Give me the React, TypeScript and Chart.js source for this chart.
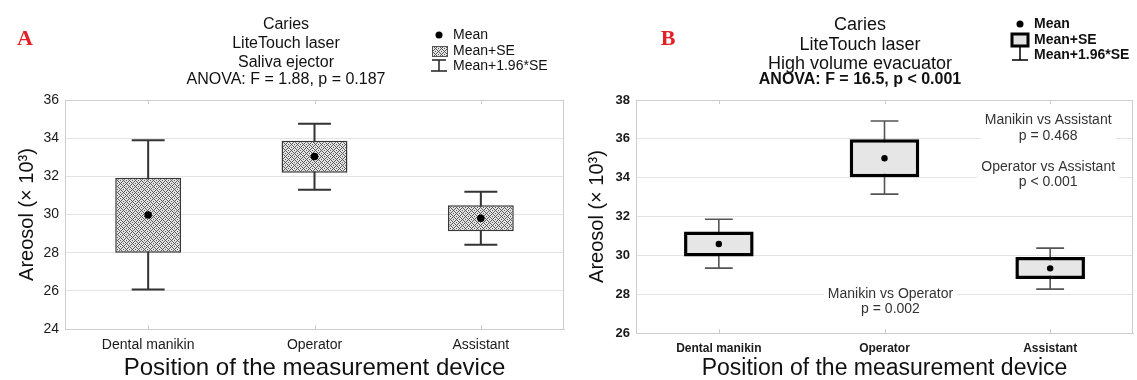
import React, { useEffect, useRef } from 'react';
import { Chart, registerables } from 'chart.js';

Chart.register(...registerables);

// ---------- data ----------
const categories = ['Dental manikin', 'Operator', 'Assistant'];

// Panel A: Saliva ejector
const meanA = [29.97, 33.04, 29.8];
const seLowA = [28.0, 32.19, 29.12];
const seHighA = [31.93, 33.87, 30.48];
const ciLowA = [26.07, 31.3, 28.42];
const ciHighA = [33.89, 34.75, 31.19];
const yTicksA = [24, 26, 28, 30, 32, 34, 36];

// Panel B: High volume evacuator
const meanB = [30.58, 35.0, 29.33];
const seLowB = [29.94, 34.02, 28.78];
const seHighB = [31.23, 35.98, 29.91];
const ciLowB = [29.34, 33.15, 28.26];
const ciHighB = [31.86, 36.92, 30.37];
const yTicksB = [26, 28, 30, 32, 34, 36, 38];

const titleA = ['Caries', 'LiteTouch laser', 'Saliva ejector'];
const anovaA = 'ANOVA: F = 1.88, p = 0.187';
const titleB = ['Caries', 'LiteTouch laser', 'High volume evacuator'];
const anovaB = 'ANOVA: F = 16.5, p < 0.001';
const legendLabels = ['Mean', 'Mean+SE', 'Mean+1.96*SE'];
const yTitle = 'Areosol (× 10³)';
const xTitle = 'Position of the measurement device';
const comparisonTextsB = [
  ['Manikin vs Assistant', 'p = 0.468'],
  ['Operator vs Assistant', 'p < 0.001'],
  ['Manikin vs Operator', 'p = 0.002'],
];

// ---------- styles ----------
const FONT = 'Arial, "Liberation Sans", Helvetica, sans-serif';
const SERIF = '"Liberation Serif", "Times New Roman", Times, serif';

function makePattern(): CanvasPattern | string {
  const n = 6;
  const c = document.createElement('canvas');
  c.width = n;
  c.height = n;
  const g = c.getContext('2d');
  if (!g) return '#b8b8b8';
  g.fillStyle = '#e4e4e4';
  g.fillRect(0, 0, n, n);
  g.fillStyle = '#585858';
  for (let x = 0; x < n; x++) {
    for (let y = 0; y < n; y++) {
      const q = (Math.floor(x / 3) + Math.floor(y / 3)) % 2;
      const on = q === 0 ? (x + y) % 3 === 0 : (x - y + 9) % 3 === 0;
      if (on) g.fillRect(x, y, 1, 1);
    }
  }
  return g.createPattern(c, 'repeat') ?? '#b8b8b8';
}

interface PanelSpec {
  variant: 'A' | 'B';
  mean: number[];
  seLow: number[];
  seHigh: number[];
  ciLow: number[];
  ciHigh: number[];
  yTicks: number[];
  title: string[];
  anova: string;
  letter: string;
}

function text(ctx: CanvasRenderingContext2D, s: string, x: number, y: number, font: string, color: string, align: CanvasTextAlign = 'center') {
  ctx.font = font;
  ctx.fillStyle = color;
  ctx.textAlign = align;
  ctx.textBaseline = 'middle';
  ctx.fillText(s, x, y);
}

function buildChart(canvas: HTMLCanvasElement, p: PanelSpec) {
  const isA = p.variant === 'A';
  const pattern = isA ? makePattern() : '#e6e6e6';
  const st = isA
    ? {
        yAxisWidth: 65, xAxisHeight: 51, padRight: 3,
        border: '#383838', borderWidth: 1.5, barPct: 0.396,
        capFrac: 0.5, whiskerColor: '#333', whiskerWidth: 2, dotR: 3.8,
        yTickFont: { family: FONT, size: 14 }, xTickFont: { family: FONT, size: 14 },
        yTitlePad: 17, titleFont: `16px ${FONT}`, anovaFont: `16px ${FONT}`,
        titleX: 286, titleYs: [25, 44, 63, 80],
        legendX: 439, legendYs: [35, 51, 66], legendFont: `14px ${FONT}`,
        letterX: 25, xTitleSize: 24,
      }
    : {
        yAxisWidth: 68, xAxisHeight: 47, padRight: 2,
        border: '#000', borderWidth: 3.5, barPct: 0.42,
        capFrac: 0.4, whiskerColor: '#555', whiskerWidth: 1.6, dotR: 3.2,
        yTickFont: { family: FONT, size: 13, weight: 'bold' as const }, xTickFont: { family: FONT, size: 12, weight: 'bold' as const },
        yTitlePad: 19, titleFont: `18px ${FONT}`, anovaFont: `bold 16px ${FONT}`,
        titleX: 292, titleYs: [25, 45, 64, 80],
        legendX: 452, legendYs: [24, 40, 55], legendFont: `bold 14px ${FONT}`,
        letterX: 100, xTitleSize: 23,
      };

  const errorBars = {
    id: 'errorBars',
    beforeDatasetsDraw(chart: any) {
      const { ctx, scales } = chart;
      const x = scales.x;
      const y = scales.y;
      const meta = chart.getDatasetMeta(1);
      ctx.save();
      ctx.strokeStyle = st.whiskerColor;
      ctx.lineWidth = st.whiskerWidth;
      p.ciLow.forEach((v, i) => {
        const bar = meta.data[i] as any;
        const cx = x.getPixelForValue(i);
        const half = (bar.width * st.capFrac) / 2;
        const yl = y.getPixelForValue(v);
        const yh = y.getPixelForValue(p.ciHigh[i]);
        ctx.beginPath();
        ctx.moveTo(cx, yl);
        ctx.lineTo(cx, yh);
        ctx.moveTo(cx - half, yl);
        ctx.lineTo(cx + half, yl);
        ctx.moveTo(cx - half, yh);
        ctx.lineTo(cx + half, yh);
        ctx.stroke();
      });
      // frame: top and right border, small category marks
      const a = chart.chartArea;
      ctx.strokeStyle = '#cdcdcd';
      ctx.lineWidth = 1;
      ctx.beginPath();
      ctx.moveTo(a.left, a.top + 0.5);
      ctx.lineTo(a.right, a.top + 0.5);
      ctx.moveTo(a.right - 0.5, a.top);
      ctx.lineTo(a.right - 0.5, a.bottom);
      categories.forEach((_, i) => {
        const cx = Math.round(x.getPixelForValue(i)) + 0.5;
        ctx.moveTo(cx, a.top);
        ctx.lineTo(cx, a.top + 4);
        ctx.moveTo(cx, a.bottom);
        ctx.lineTo(cx, a.bottom - 4);
      });
      ctx.stroke();
      ctx.restore();
    },
  };

  const decor = {
    id: 'decor',
    afterDraw(chart: any) {
      const { ctx, scales } = chart;
      const x = scales.x;
      const y = scales.y;
      ctx.save();
      // panel letter
      text(ctx, p.letter, st.letterX, 39, `bold 22px ${SERIF}`, '#e41f26');
      // titles
      p.title.forEach((t, i) => text(ctx, t, st.titleX, st.titleYs[i], st.titleFont, '#111'));
      text(ctx, p.anova, st.titleX, st.titleYs[3], st.anovaFont, '#111');
      // legend
      const lx = st.legendX;
      const ly = st.legendYs;
      ctx.fillStyle = '#000';
      ctx.beginPath();
      ctx.arc(lx, ly[0], 3.5, 0, Math.PI * 2);
      ctx.fill();
      if (isA) {
        ctx.fillStyle = pattern as any;
        ctx.fillRect(lx - 7, ly[1] - 5, 15, 10);
        ctx.strokeStyle = '#555';
        ctx.lineWidth = 1;
        ctx.strokeRect(lx - 7 + 0.5, ly[1] - 5 + 0.5, 15, 10);
        ctx.strokeStyle = '#222';
        ctx.lineWidth = 1.5;
        ctx.beginPath();
        ctx.moveTo(lx - 7, ly[2] - 6);
        ctx.lineTo(lx + 7, ly[2] - 6);
        ctx.moveTo(lx, ly[2] - 6);
        ctx.lineTo(lx, ly[2] + 5);
        ctx.moveTo(lx - 8, ly[2] + 5);
        ctx.lineTo(lx + 8, ly[2] + 5);
        ctx.stroke();
      } else {
        ctx.fillStyle = '#e2e2e2';
        ctx.fillRect(lx - 8, ly[1] - 6, 16, 12);
        ctx.strokeStyle = '#000';
        ctx.lineWidth = 3;
        ctx.strokeRect(lx - 8, ly[1] - 6, 16, 12);
        ctx.lineWidth = 1.5;
        ctx.beginPath();
        ctx.moveTo(lx, ly[1] + 6);
        ctx.lineTo(lx, ly[2] + 5);
        ctx.moveTo(lx - 8, ly[2] + 5);
        ctx.lineTo(lx + 8, ly[2] + 5);
        ctx.stroke();
      }
      legendLabels.forEach((t, i) => text(ctx, t, lx + 14, ly[i], st.legendFont, '#111', 'left'));
      // pairwise comparison annotations (panel B)
      if (!isA) {
        const anchors = [
          [2, 36.95],
          [2, 34.55],
          [1, 28.02],
        ];
        const font = `14px ${FONT}`;
        ctx.font = font;
        comparisonTextsB.forEach((lines, k) => {
          const cx = x.getPixelForValue(anchors[k][0]) + (k === 2 ? 6 : -2);
          const cy = y.getPixelForValue(anchors[k][1]);
          const w = Math.max(...lines.map((l) => ctx.measureText(l).width)) + 8;
          ctx.fillStyle = '#fff';
          ctx.fillRect(cx - w / 2, cy - 9, w, 34);
          lines.forEach((l, j) => text(ctx, l, cx, cy + j * 15.5, font, '#333'));
          ctx.font = font;
        });
      }
      ctx.restore();
    },
  };

  return new Chart(canvas, {
    type: 'bar',
    data: {
      labels: categories,
      datasets: [
        {
          type: 'line',
          label: legendLabels[0],
          data: p.mean,
          showLine: false,
          pointRadius: st.dotR,
          pointBackgroundColor: '#000',
          pointBorderColor: '#000',
          pointBorderWidth: 0,
          order: 0,
        } as any,
        {
          type: 'bar',
          label: legendLabels[1],
          data: p.seLow.map((v, i) => [v, p.seHigh[i]]),
          backgroundColor: pattern as any,
          borderColor: st.border,
          borderWidth: st.borderWidth,
          borderSkipped: false,
          barPercentage: st.barPct,
          categoryPercentage: 1,
          order: 1,
        } as any,
      ],
    },
    options: {
      responsive: false,
      animation: false,
      devicePixelRatio: 1,
      layout: { padding: { top: 100, right: st.padRight, left: 0, bottom: 0 } },
      plugins: {
        legend: { display: false },
        title: { display: false },
        tooltip: { enabled: false },
      },
      scales: {
        x: {
          type: 'category',
          offset: true,
          grid: { display: false },
          border: { display: true, color: '#cdcdcd' },
          ticks: { color: '#1a1a1a', font: st.xTickFont, padding: 0, maxRotation: 0, autoSkip: false },
          title: {
            display: true,
            text: xTitle,
            color: '#111',
            font: { family: FONT, size: st.xTitleSize, lineHeight: 1 },
            padding: { top: 0, bottom: 0 },
          },
          afterFit: (s: any) => {
            s.height = st.xAxisHeight;
          },
        },
        y: {
          min: p.yTicks[0],
          max: p.yTicks[p.yTicks.length - 1],
          afterBuildTicks: (s: any) => {
            s.ticks = p.yTicks.map((v) => ({ value: v }));
          },
          grid: { color: '#e3e3e3', drawTicks: false, lineWidth: 1 },
          border: { display: true, color: '#cdcdcd' },
          ticks: { color: '#1a1a1a', font: st.yTickFont, padding: 6 },
          title: {
            display: true,
            text: yTitle,
            color: '#111',
            font: { family: FONT, size: 20, lineHeight: 1 },
            padding: { top: st.yTitlePad, bottom: 0 },
          },
          afterFit: (s: any) => {
            s.width = st.yAxisWidth;
          },
        },
      },
    } as any,
    plugins: [errorBars, decor],
  });
}

export default function App() {
  const refA = useRef<HTMLCanvasElement>(null);
  const refB = useRef<HTMLCanvasElement>(null);

  useEffect(() => {
    document.body.style.margin = '0';
    const a = buildChart(refA.current as HTMLCanvasElement, {
      variant: 'A',
      mean: meanA,
      seLow: seLowA,
      seHigh: seHighA,
      ciLow: ciLowA,
      ciHigh: ciHighA,
      yTicks: yTicksA,
      title: titleA,
      anova: anovaA,
      letter: 'A',
    });
    const b = buildChart(refB.current as HTMLCanvasElement, {
      variant: 'B',
      mean: meanB,
      seLow: seLowB,
      seHigh: seHighB,
      ciLow: ciLowB,
      ciHigh: ciHighB,
      yTicks: yTicksB,
      title: titleB,
      anova: anovaB,
      letter: 'B',
    });
    return () => {
      a.destroy();
      b.destroy();
    };
  }, []);

  return (
    <div style={{ position: 'relative', width: 1137, height: 380, background: '#fff', overflow: 'hidden' }}>
      <canvas ref={refA} width={568} height={380} style={{ position: 'absolute', left: 0, top: 0, width: 568, height: 380 }} />
      <canvas ref={refB} width={569} height={380} style={{ position: 'absolute', left: 568, top: 0, width: 569, height: 380 }} />
    </div>
  );
}
